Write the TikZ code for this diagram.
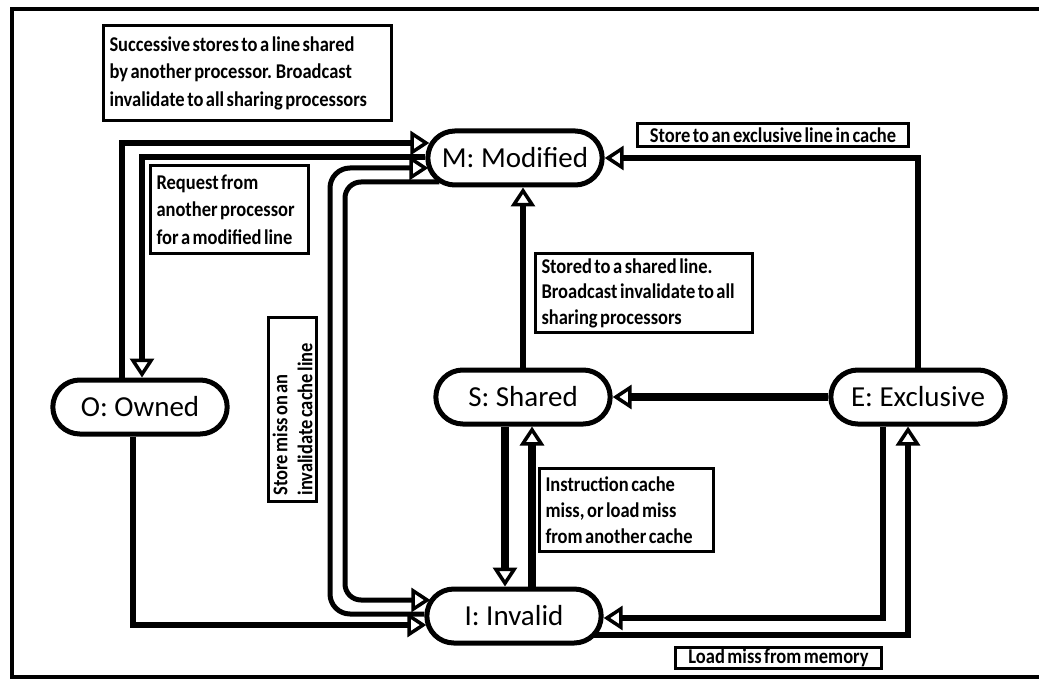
\documentclass[tikz,border=0pt]{standalone}
\usepackage{fontspec}
\setmainfont{Carlito}
\newfontfamily\notefont{Carlito}[FakeStretch=0.88, WordSpace=0.6]
\usepackage{tikz}
\usetikzlibrary{arrows.meta, shapes.misc, calc}
\tikzstyle{state} = [rounded rectangle, draw, line width=5pt, minimum width=181pt, minimum height=54pt, font=\fontsize{29}{34}\selectfont]
\tikzstyle{note} = [rectangle, draw, line width=2.5pt, align=left, inner xsep=6pt, inner ysep=3pt, font=\notefont\bfseries\fontsize{21}{27.5}\selectfont, execute at begin node={\spaceskip=0pt\xspaceskip=0pt}]
\tikzstyle{conn} = [draw, line width=5.5pt, -{Triangle[open, length=19pt, width=24pt, line width=3.5pt]}]
\tikzstyle{heavy} = [conn, line width=7.5pt]
\tikzstyle{frame} = [line width=4.5pt]

\begin{document}
\begin{tikzpicture}[x=1pt, y=-1pt]
    \useasboundingbox (0,0) rectangle (1039,679);
    % frame
    \draw[frame] (1045,9) -- (12,9) -- (12,677) -- (1045,677);
    
    % states
    \node[state] at (515,158) (mod) {M: Modified};
    \node[state] at (140,407) (own) {O: Owned};
    \node[state] at (523,397) (shr) {S: Shared};
    \node[state] at (918,397) (exc) {E: Exclusive};
    \node[state] at (514,616) (inv) {I: Invalid};
    
    % owned <-> modified
    \path[conn] ($(own.north)+(-18,0)$) |- ($(mod.west)+(4,-15)$);
    \path[conn] ($(mod.west)+(0,-1)$) -| ($(own.north)+(2,0)$);
    % invalid <-> modified
    \path[conn, line width=5pt, rounded corners=20pt] ($(inv.west)+(0,-2)$) -| (330,168) -- ($(mod.west)+(3,10)$);
    \path[conn, line width=5pt, rounded corners=16pt] ($(mod.west)+(14,24)$) -| (345,600) -- ($(inv.west)+(6,-16)$);
    \path[conn] ($(own.south)+(-7,0)$) |- ($(inv.west)+(2,9)$);
    % shared
    \path[conn] (shr.north) to ($(mod.south)+(8,0)$);
    \path[heavy] (exc.west) to (shr.east);
    \path[heavy] ($(shr.south)+(-18,0)$) to ($(inv.north)+(-9,0)$);
    \path[heavy] ($(inv.north)+(18,0)$) to ($(shr.south)+(9,0)$);
    % exclusive
    \path[conn] (exc.north) |- (mod.east);
    \path[conn] ($(exc.south)+(-35,0)$) |- ($(inv.east)+(0,2)$);
    \path[conn] ($(inv.east)+(-10,19)$) -| ($(exc.south)+(-10,0)$);
    
    % notes
    \node[note, text width=276pt, minimum height=95pt] at (247.5,73) (succ) {Successive stores to a line shared\\by another processor. Broadcast\\invalidate to all sharing processors};
    \node[note, text width=146pt, minimum height=88pt] at (229.5,209.5) (req) {Request from\\another processor\\for a modified line};
    \node[note, inner ysep=0pt, minimum width=271pt, minimum height=23pt] at (773,135) (excl) {Store to an exclusive line in cache};
    \node[note, text width=205pt, minimum height=79pt, font=\notefont\bfseries\fontsize{21}{25.5}\selectfont] at (644,293) (shst) {Stored to a shared line.\\Broadcast invalidate to all\\sharing processors};
    \node[note, rotate=90, text width=172pt, minimum height=48pt, inner ysep=1pt, font=\notefont\bfseries\fontsize{21}{25}\selectfont] at (292.5,409.5) (smiss) {Store miss on an\\invalidate cache line};
    \node[note, text width=162pt, minimum height=83pt, font=\notefont\bfseries\fontsize{21}{26}\selectfont] at (626.5,510) (imiss) {Instruction cache\\miss, or load miss\\from another cache};
    \node[note, inner ysep=0pt, minimum width=206pt, minimum height=21pt] at (778.5,658) (lmiss) {Load miss from memory};
    
\end{tikzpicture}
\end{document}
